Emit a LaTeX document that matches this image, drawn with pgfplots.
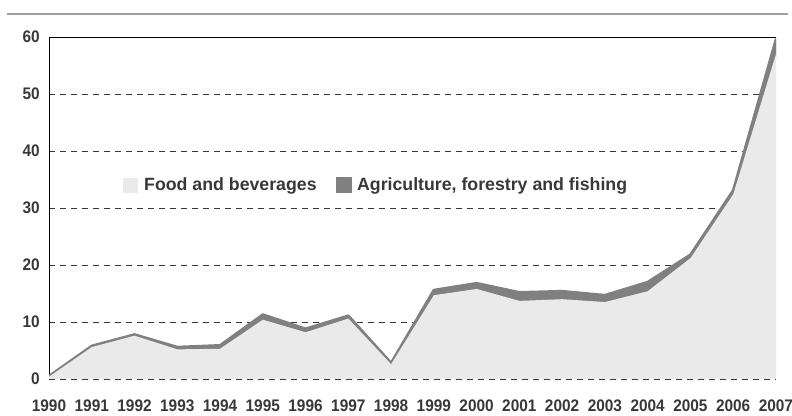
\documentclass[border=0pt]{standalone}
\usepackage{fontspec}
\setmainfont{Liberation Sans}
\newfontfamily\tickfont{Liberation Sans}[FakeStretch=0.92]
\usepackage{pgfplots}
\pgfplotsset{compat=1.18}
\definecolor{txt}{HTML}{383838}
\definecolor{foodc}{HTML}{EAEAEA}
\definecolor{agric}{HTML}{808080}
\definecolor{rule}{HTML}{A0A0A0}

\pgfplotstableread{
year food agri
1990 0.4  0.1
1991 5.6  0.2
1992 7.6  0.2
1993 5.2  0.4
1994 5.3  0.6
1995 10.4 0.9
1996 8.2  0.6
1997 10.6 0.5
1998 2.6  0.2
1999 14.7 0.9
2000 15.8 1.0
2001 13.7 1.5
2002 14.0 1.4
2003 13.5 1.2
2004 15.4 1.6
2005 21.2 0.6
2006 32.4 0.7
2007 57.0 2.6
}\exports

\begin{document}
\begin{tikzpicture}
\useasboundingbox (-49bp,-37bp) rectangle (743bp,379bp);
\begin{axis}[
    scale only axis,
    width=727bp, height=342bp,
    xmin=1990, xmax=2007,
    ymin=0, ymax=60,
    xtick={1990,...,2007},
    ytick={0,10,...,60},
    /pgf/number format/1000 sep={},
    /pgf/number format/assume math mode=true,
    major tick length=0pt,
    axis line style={draw=none},
    ymajorgrids,
    grid style={draw=txt, line width=0.8bp, dash pattern=on 6bp off 5bp},
    ticklabel style={font=\tickfont\fontsize{16.8}{18}\bfseries, text=txt, inner sep=0pt},
    yticklabel style={anchor=east, xshift=-9bp},
    xticklabel style={anchor=north, yshift=-21bp},
    stack plots=y,
    legend columns=2,
    legend style={draw=none, fill=none, at={(0.0977,0.567)}, anchor=west,
        font=\fontsize{17.8}{20}\bfseries, text=txt,
        /tikz/every odd column/.append style={column sep=4bp},
        /tikz/every even column/.append style={column sep=17bp}},
    legend image code/.code={\path[#1, line width=0.5bp] (0bp,-7.5bp) rectangle (15bp,7.5bp);},
]
\addplot[fill=foodc, draw=none] table[x=year, y=food] {\exports} \closedcycle;
\addlegendentry{Food and beverages}
\addplot[fill=agric, draw=agric, line width=2.7bp, line join=round] table[x=year, y=agri] {\exports} \closedcycle;
\addlegendentry{Agriculture, forestry and fishing}
\draw[black, line width=0.9bp] (rel axis cs:0,0) -- (rel axis cs:0,1) -- (rel axis cs:1,1);
\end{axis}
\draw[rule, line width=2.5bp] (-42bp,365bp) -- (739bp,365bp);
\end{tikzpicture}
\end{document}
